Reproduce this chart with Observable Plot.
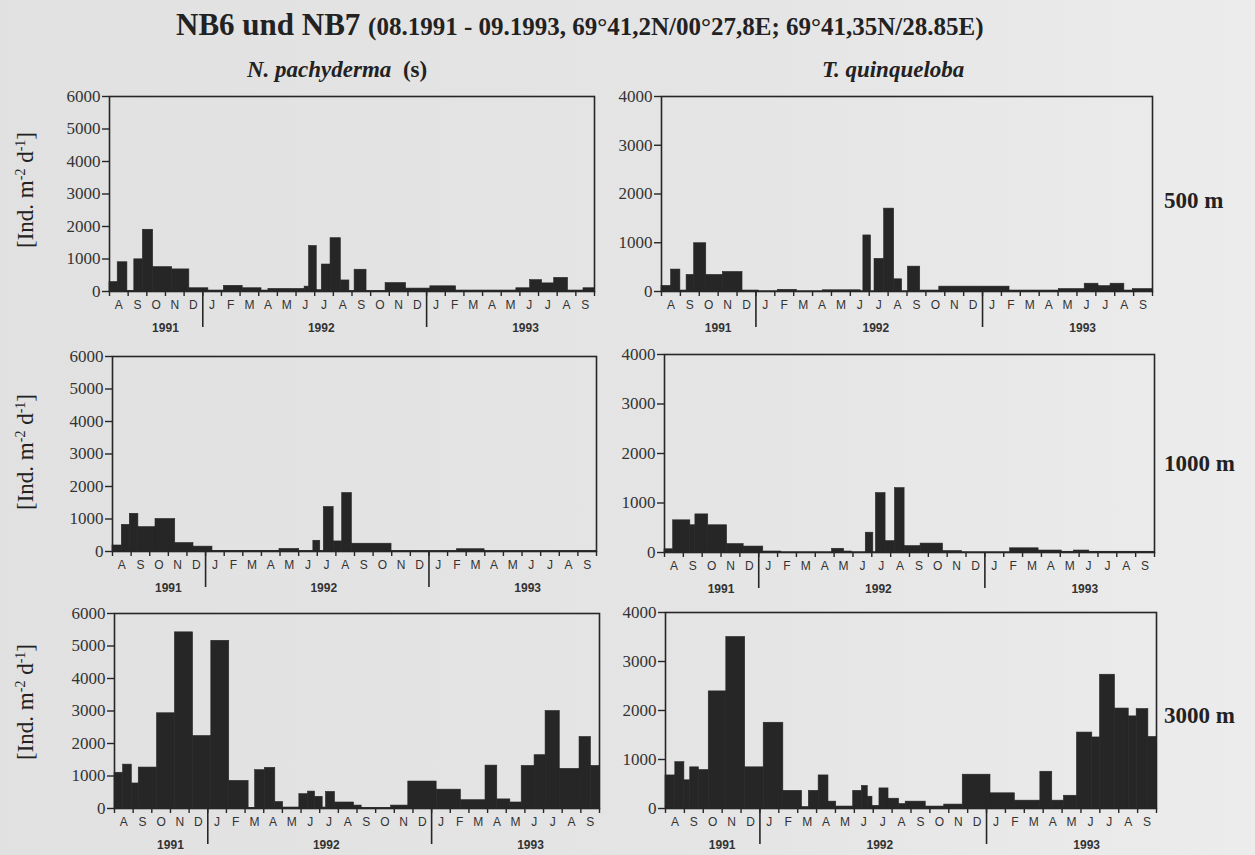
<!DOCTYPE html>
<html><head><meta charset="utf-8">
<script src="https://cdn.jsdelivr.net/npm/d3@7"></script>
<script src="https://cdn.jsdelivr.net/npm/@observablehq/plot@0.6"></script>
<style>
html,body{margin:0;padding:0}
body{width:1255px;height:855px;overflow:hidden;position:relative;background:linear-gradient(90deg,#e1e1e1 0%,#e5e5e5 60%,#ececec 100%);font-family:"Liberation Serif","Times New Roman",serif;color:#222}
.abs{position:absolute;white-space:nowrap;line-height:1}
.title{left:176px;top:9px;font-weight:bold;font-size:31px}
.title small{font-size:25px}
.sub{font-weight:bold;font-style:italic;font-size:23px;top:58px}
.depth{font-weight:bold;font-size:23px;left:1164px}
.ylab{font-size:23px;transform:translate(-50%,-50%) rotate(-90deg);left:25px}
.ylab sup{font-size:14px;vertical-align:8px}
</style></head><body>
<div class="abs title">NB6 und NB7 <small>(08.1991 - 09.1993, 69°41,2N/00°27,8E; 69°41,35N/28.85E)</small></div>
<div class="abs sub" style="left:247px">N. pachyderma <span style="font-style:normal">&nbsp;(s)</span></div>
<div class="abs sub" style="left:822px">T. quinqueloba</div>
<div id="root"></div>
<script>
// month letters, Aug 1991 .. Sep 1993 (x axis unit = months since 1 Aug 1991)
const monthLetters = ["A","S","O","N","D","J","F","M","A","M","J","J","A","S","O","N","D","J","F","M","A","M","J","J","A","S"];
const years = ["1991","1992","1993"];
const yearLabelAt = [3, 11.35, 22.3];
const yearBreaks = [5, 17];
const depthLabels = ["500 m", "1000 m", "3000 m"];

// N. pachyderma (s), 500 m: sample opening (months since 1 Aug 1991) and flux [Ind. m-2 d-1]
const np500Start = [0,0.44,0.96,1.33,1.79,2.34,3.36,4.28,5.30,6.13,7.14,8.15,8.52,10.46,10.70,11.11,11.38,11.85,12.40,12.86,13.14,13.78,14.80,15.90,17.20,18.58,21.81,22.55,23.19,23.84,24.58,25.41];
const np500Flux  = [290,900,20,990,1900,750,680,100,30,175,100,30,80,150,1400,40,830,1640,340,10,670,10,260,90,160,30,100,350,250,420,30,100];

// T. quinqueloba, 500 m
const tq500Start = [0,0.51,1.00,1.33,1.73,2.37,3.25,4.29,5.16,6.17,7.17,8.54,10.55,10.69,11.09,11.28,11.79,12.32,12.74,13.05,13.70,14.71,18.43,21.04,22.41,23.14,23.78,24.51,24.96];
const tq500Flux  = [115,450,20,340,990,340,400,20,5,35,5,25,5,1150,5,670,1700,250,5,510,20,100,20,50,160,110,160,20,50];

// N. pachyderma (s), 1000 m
const np1000Start = [0,0.50,0.93,1.39,2.31,3.37,4.35,5.37,8.97,10.03,10.79,11.16,11.35,11.88,12.34,12.86,14.99,18.50,19.99];
const np1000Flux  = [185,820,1160,750,1000,260,150,20,80,10,330,10,1370,310,1800,240,10,70,10];

// T. quinqueloba, 1000 m
const tq1000Start = [0,0.46,1.37,1.64,2.32,3.32,4.20,5.24,6.20,8.89,9.53,9.95,10.68,11.08,11.22,11.73,12.23,12.74,13.59,14.78,15.78,18.34,19.85,21.08,21.72,22.54];
const tq1000Flux  = [65,650,550,770,550,170,120,20,5,75,20,5,400,5,1200,230,1300,130,180,30,5,85,40,15,40,15];

// N. pachyderma (s), 3000 m
const np3000Start = [0,0.46,0.93,1.30,2.28,3.24,4.21,5.19,6.15,7.19,7.54,8.06,8.62,9.04,9.91,10.38,10.75,11.16,11.34,11.82,12.84,13.25,14.83,15.75,17.27,18.57,19.89,20.52,21.22,21.83,22.52,23.11,23.87,24.93,25.54];
const np3000Flux  = [1100,1350,770,1260,2930,5420,2230,5160,850,20,1180,1250,200,30,440,520,360,30,510,185,90,10,90,830,580,255,1320,280,185,1310,1640,3000,1220,2200,1310];

// T. quinqueloba, 3000 m
const tq3000Start = [0,0.52,1.00,1.31,1.77,2.29,3.22,4.22,5.20,6.24,7.23,7.59,8.11,8.63,9.04,9.94,10.40,10.71,10.96,11.33,11.81,12.37,12.72,13.78,14.76,15.74,17.21,18.50,19.85,20.48,21.10,21.79,22.60,23.01,23.80,24.53,24.95,25.57];
const tq3000Flux  = [675,945,575,840,785,2390,3500,840,1750,360,30,360,675,140,40,360,460,240,55,410,200,90,140,40,80,690,310,160,750,160,260,1550,1450,2730,2040,1880,2030,1460];

const nMonths = monthLetters.length;
const ink = "#262626";

function makePanel(starts, flux, ymax, box) {
  const rows = starts.map((s, i) => ({x1: s, x2: i + 1 < starts.length ? starts[i + 1] : nMonths, v: flux[i]}));
  const mL = 70, mR = 12, mT = 14, mB = 56;
  const chart = Plot.plot({
    width: box.x2 - box.x1 + mL + mR,
    height: box.y2 - box.y1 + mT + mB,
    marginLeft: mL, marginRight: mR, marginTop: mT, marginBottom: mB,
    x: {domain: [0, nMonths], axis: null},
    y: {domain: [0, ymax], axis: null},
    style: {background: "transparent", color: ink, overflow: "visible"},
    marks: [
      Plot.rect(rows, {x1: "x1", x2: "x2", y1: 0, y2: "v", fill: ink, stroke: ink, strokeWidth: 0.6}),
      Plot.frame({stroke: ink, strokeWidth: 1.6}),
      Plot.axisY({ticks: d3.range(0, ymax + 1, 1000), tickSize: 7, tickPadding: 2, strokeWidth: 1.4, label: null,
        tickFormat: d => String(d), fontSize: 17, fontFamily: "Liberation Serif", fill: "#333"}),
      Plot.axisX({ticks: d3.range(0, nMonths + 1), tickSize: 5, strokeWidth: 1.4, tickFormat: () => "", label: null}),
      Plot.axisX({ticks: d3.range(nMonths).map(i => i + 0.5), tickSize: 0, tickPadding: 9, label: null,
        tickFormat: d => monthLetters[Math.floor(d)], fontSize: 12, fontFamily: "Liberation Sans", fill: "#333"}),
      Plot.axisX({ticks: yearBreaks, tickSize: 36, strokeWidth: 1.6, tickFormat: () => "", label: null}),
      Plot.axisX({ticks: yearLabelAt, tickSize: 0, tickPadding: 32, label: null,
        tickFormat: d => years[yearLabelAt.indexOf(d)], fontSize: 12, fontWeight: "bold", fontFamily: "Liberation Sans", fill: "#333"})
    ]
  });
  chart.style.position = "absolute";
  chart.style.left = (box.x1 - mL) + "px";
  chart.style.top = (box.y1 - mT) + "px";
  document.getElementById("root").appendChild(chart);
}

const layout = [
  {x1: 109, x2: 594, y1: 96, y2: 291},
  {x1: 661, x2: 1152, y1: 96, y2: 291},
  {x1: 112, x2: 596, y1: 356, y2: 551},
  {x1: 664, x2: 1154, y1: 354, y2: 552},
  {x1: 114, x2: 599, y1: 613, y2: 808},
  {x1: 665, x2: 1156, y1: 612, y2: 808}
];
makePanel(np500Start, np500Flux, 6000, layout[0]);
makePanel(tq500Start, tq500Flux, 4000, layout[1]);
makePanel(np1000Start, np1000Flux, 6000, layout[2]);
makePanel(tq1000Start, tq1000Flux, 4000, layout[3]);
makePanel(np3000Start, np3000Flux, 6000, layout[4]);
makePanel(tq3000Start, tq3000Flux, 4000, layout[5]);

// depth labels (right) and unit labels (left), one per row
const depthY = [200, 463, 715];
const unitY = [190, 452, 702];
depthLabels.forEach((t, r) => {
  const d = document.createElement("div");
  d.className = "abs depth";
  d.textContent = t;
  d.style.top = (depthY[r] - 11) + "px";
  document.body.appendChild(d);
  const y = document.createElement("div");
  y.className = "abs ylab";
  y.innerHTML = "[Ind. m<sup>-2</sup> d<sup>-1</sup>]";
  y.style.top = unitY[r] + "px";
  document.body.appendChild(y);
});
</script>
</body></html>
